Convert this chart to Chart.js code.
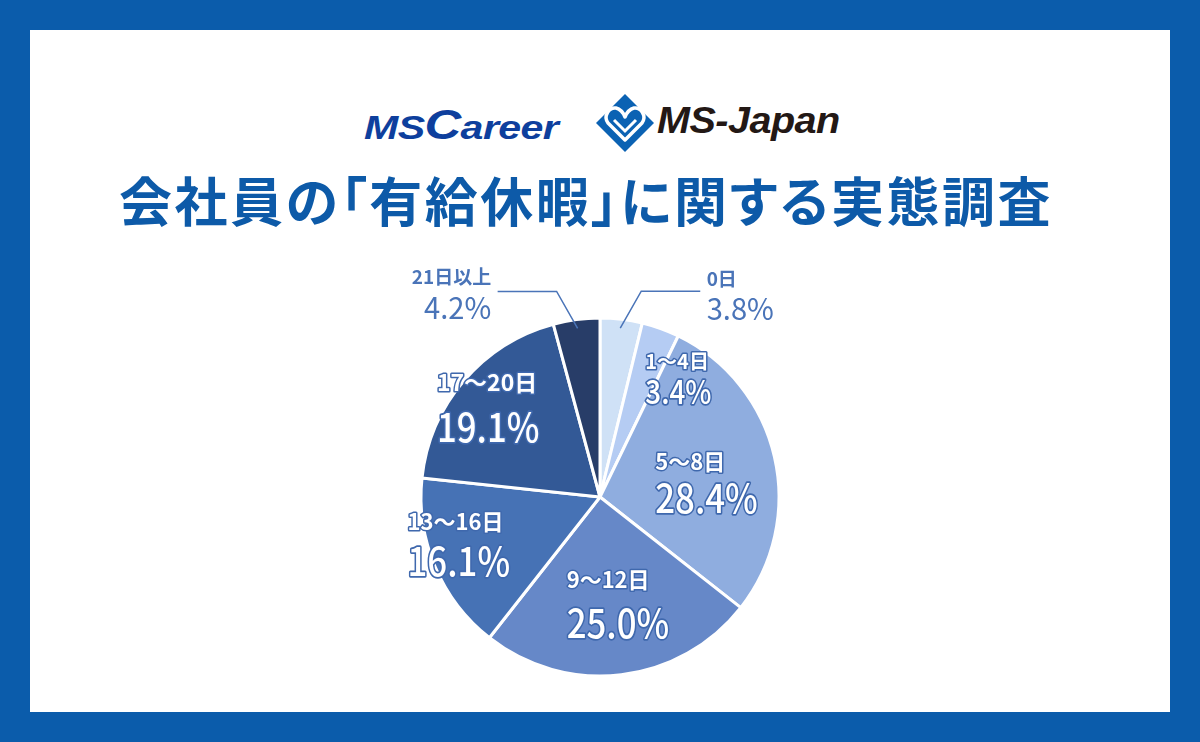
<!DOCTYPE html>
<html lang="ja">
<head>
<meta charset="utf-8">
<script src="https://cdn.jsdelivr.net/npm/chart.js@4.4.1/dist/chart.umd.min.js"></script>
<style>
  html, body { margin: 0; padding: 0; }
  body { width: 1200px; height: 742px; background: #0b5cab; position: relative; overflow: hidden;
         font-family: "Noto Sans CJK JP", "Noto Sans", sans-serif; }
  #panel { position: absolute; left: 30px; top: 30px; width: 1140px; height: 682px; background: #fff; }
  .mscareer { position: absolute; left: 364px; top: 101px; font-family: "Liberation Sans", Arial, sans-serif;
              font-weight: bold; font-style: italic; font-size: 34px; color: #0e3f9d; letter-spacing: -0.5px;
              transform: scaleX(1.21); transform-origin: left center; }
  .mscareer b { font-size: 42px; }
  .msjapan { position: absolute; left: 657px; top: 100px; font-family: "Liberation Sans", Arial, sans-serif;
             font-weight: bold; font-style: italic; font-size: 36px; color: #231815; letter-spacing: -0.5px;
             transform: scaleX(1.1); transform-origin: left center; }
  #mark { position: absolute; left: 595px; top: 93px; }
  h1 { position: absolute; left: -14px; top: 169px; width: 1200px; margin: 0; text-align: center;
       font-size: 53px; font-weight: bold; color: #0d5aa8; line-height: 60px; letter-spacing: 2.5px;
       font-feature-settings: "palt"; }
  #wrap { position: absolute; left: 300px; top: 257px; width: 600px; height: 480px; }
</style>
</head>
<body>
<div id="panel"></div>
<div class="mscareer">MS<b>C</b>areer</div>
<svg id="mark" width="60" height="60" viewBox="0 0 60 60">
  <polygon points="30,1 59,30 30,59 1,30" fill="#0b62b3"/>
  <path d="M30 47 L13 30 C8 23 14 14 21 15 C25 16 28 19 30 24 C32 19 35 16 39 15 C46 14 52 23 47 30 Z"
        fill="none" stroke="#fff" stroke-width="3.5" stroke-linejoin="round"/>
  <path d="M19 27 L30 38 L41 27" fill="none" stroke="#fff" stroke-width="3"/>
</svg>
<div class="msjapan">MS-Japan</div>
<h1>会社員の「有給休暇」に関する実態調査</h1>
<div id="wrap"><canvas id="pie" width="600" height="480"></canvas></div>
<script>
// データ
const categories = ['0日', '1～4日', '5～8日', '9～12日', '13～16日', '17～20日', '21日以上'];
const shares = [3.8, 3.4, 28.4, 25.0, 16.1, 19.1, 4.2];
const pctLabels = ['3.8%', '3.4%', '28.4%', '25.0%', '16.1%', '19.1%', '4.2%'];
const sliceColors = ['#cfe1f6', '#b5ccf3', '#8faddf', '#6688c8', '#4672b5', '#335996', '#283d68'];

// ラベルの配置 (扇形の重心からのずれ)
const labelLayout = [
    { dx: 96, dy: -129, gap: 29, align: 'left', outside: true, nameSize: 19, pctSize: 30, leader: { ex: 21, ey: -37, len: 59 } },
    { dx: 15, dy: -51, gap: 30, align: 'left', nameSize: 20, pctSize: 32 },
    { dx: -32, dy: -15, gap: 36, align: 'left', nameSize: 22, pctSize: 40 },
    { dx: -44, dy: -6, gap: 43, align: 'left', nameSize: 22, pctSize: 40 },
    { dx: -110, dy: -10, gap: 39, align: 'left', nameSize: 22, pctSize: 40 },
    { dx: -95, dy: -57, gap: 45, align: 'left', nameSize: 23, pctSize: 40 },
    { dx: -97, dy: -131, gap: 30, align: 'right', outside: true, nameSize: 19, pctSize: 30, leader: { ex: -21, ey: -37, len: 59 } }
];
const pctSqueeze = 0.87; // 数字の横幅

const labelPlugin = {
    id: 'sliceLabels',
    afterDatasetsDraw(chart) {
        const ctx = chart.ctx;
        const arcs = chart.getDatasetMeta(0).data;
        arcs.forEach(function (arc, i) {
            const lay = labelLayout[i];
            const c = arc.tooltipPosition();
            const x = c.x + lay.dx;
            const y = c.y + lay.dy;
            ctx.save();
            ctx.textAlign = lay.align;
            ctx.textBaseline = 'middle';
            if (lay.outside) {
                // 引き出し線
                const mid = (arc.startAngle + arc.endAngle) / 2;
                const sx = arc.x + Math.cos(mid) * arc.outerRadius * 0.95;
                const sy = arc.y + Math.sin(mid) * arc.outerRadius * 0.95;
                const bx = sx + lay.leader.ex;
                const by = sy + lay.leader.ey;
                ctx.strokeStyle = '#4a74b8';
                ctx.lineWidth = 1.5;
                ctx.beginPath();
                ctx.moveTo(sx, sy);
                ctx.lineTo(bx, by);
                ctx.lineTo(bx + Math.sign(lay.leader.ex) * lay.leader.len, by);
                ctx.stroke();
                ctx.fillStyle = '#4a74b8';
                ctx.font = 'bold ' + lay.nameSize + 'px "Noto Sans CJK JP"';
                ctx.fillText(categories[i], x, y);
                ctx.translate(x, y + lay.gap);
                ctx.scale(0.97, 1);
                ctx.font = lay.pctSize + 'px "Noto Sans CJK JP"';
                ctx.fillText(pctLabels[i], 0, 0);
            } else {
                // 白抜き文字
                ctx.lineJoin = 'round';
                ctx.strokeStyle = '#3f68ad';
                ctx.fillStyle = '#ffffff';
                ctx.lineWidth = 3;
                ctx.font = 'bold ' + lay.nameSize + 'px "Noto Sans CJK JP"';
                ctx.strokeText(categories[i], x, y);
                ctx.fillText(categories[i], x, y);
                ctx.translate(x, y + lay.gap);
                ctx.scale(pctSqueeze, 1);
                ctx.lineWidth = 3.5;
                ctx.font = '500 ' + lay.pctSize + 'px "Noto Sans CJK JP"';
                ctx.strokeText(pctLabels[i], 0, 0);
                ctx.fillText(pctLabels[i], 0, 0);
            }
            ctx.restore();
        });
    }
};

const pieChart = new Chart(document.getElementById('pie'), {
    type: 'pie',
    data: {
        labels: categories,
        datasets: [{
            data: shares,
            backgroundColor: sliceColors,
            borderColor: '#ffffff',
            borderWidth: 3,
            radius: 179
        }]
    },
    options: {
        responsive: false,
        animation: false,
        layout: { padding: 0 },
        plugins: {
            legend: { display: false },
            tooltip: { enabled: false }
        }
    },
    plugins: [labelPlugin]
});
</script>
</body>
</html>
